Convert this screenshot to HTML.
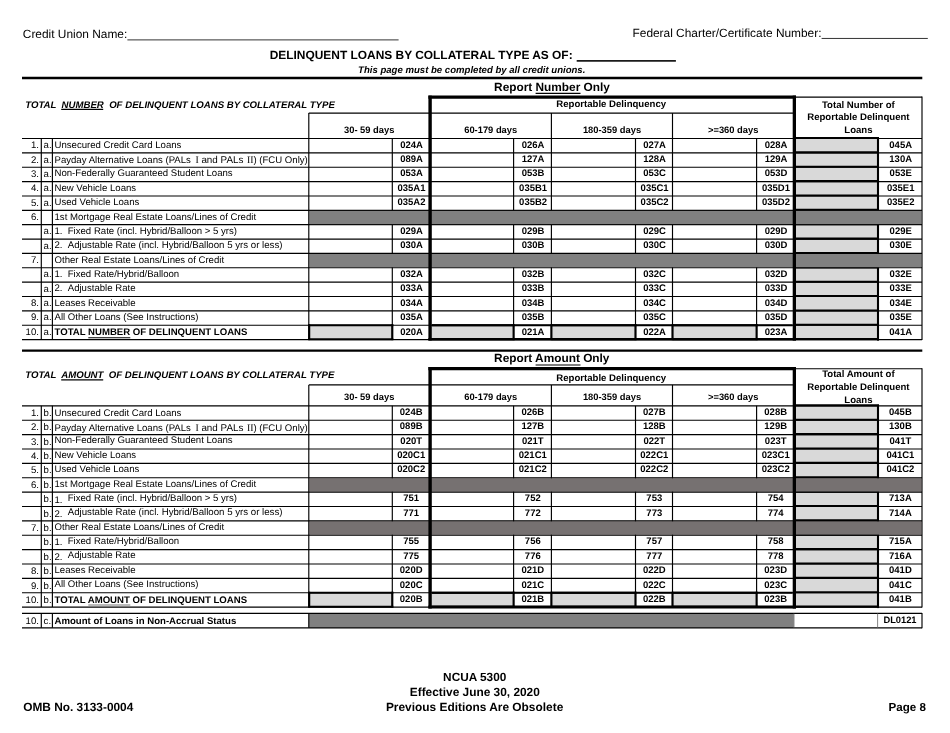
<!DOCTYPE html>
<html><head><meta charset="utf-8"><title>NCUA 5300 - Delinquent Loans by Collateral Type</title>
<style>
html,body{margin:0;padding:0;background:#fff;}
body{width:950px;height:733px;overflow:hidden;font-family:"Liberation Sans", sans-serif;}
svg{display:block;will-change:transform;font-family:"Liberation Sans", sans-serif;fill:#000;}
svg text{fill:#000;text-rendering:geometricPrecision;}
</style></head><body>
<svg width="950" height="733" viewBox="0 0 950 733">
<rect x="0" y="0" width="950" height="733" fill="#ffffff"/>
<text x="22.80" y="37.80" font-size="11.9">Credit Union Name:</text>
<line x1="127.40" y1="39.90" x2="398.60" y2="39.90" stroke="#333" stroke-width="1.0"/>
<text x="632.50" y="37.20" font-size="11.9">Federal Charter/Certificate Number:</text>
<line x1="821.60" y1="38.45" x2="927.80" y2="38.45" stroke="#333" stroke-width="1.0"/>
<text x="269.70" y="59.40" font-size="11.93" font-weight="bold">DELINQUENT LOANS BY COLLATERAL TYPE AS OF:</text>
<line x1="576.70" y1="60.90" x2="675.90" y2="60.90" stroke="#1a1a1a" stroke-width="1.6"/>
<text x="358.10" y="73.00" font-size="9.59" font-weight="bold" font-style="italic">This page must be completed by all credit unions.</text>
<line x1="22.00" y1="78.00" x2="922.30" y2="78.00" stroke="#000" stroke-width="2.3"/>
<text x="494.10" y="90.90" font-size="11.85" font-weight="bold">Report Number Only</text>
<line x1="535.60" y1="93.30" x2="580.50" y2="93.30" stroke="#000" stroke-width="1.2"/>
<line x1="22.00" y1="350.60" x2="922.30" y2="350.60" stroke="#000" stroke-width="2.2"/>
<line x1="535.60" y1="365.00" x2="580.50" y2="365.00" stroke="#000" stroke-width="1.2"/>
<text x="494.10" y="362.40" font-size="11.85" font-weight="bold">Report Amount Only</text>
<rect x="796.00" y="138.50" width="82.00" height="14.37" fill="#d9d9d9"/>
<rect x="796.00" y="152.87" width="82.00" height="14.36" fill="#d9d9d9"/>
<rect x="796.00" y="167.23" width="82.00" height="14.37" fill="#d9d9d9"/>
<rect x="796.00" y="181.59" width="82.00" height="14.37" fill="#d9d9d9"/>
<rect x="796.00" y="195.96" width="82.00" height="14.36" fill="#d9d9d9"/>
<rect x="308.80" y="210.32" width="613.20" height="14.37" fill="#808080"/>
<rect x="796.00" y="224.69" width="82.00" height="14.37" fill="#d9d9d9"/>
<rect x="796.00" y="239.06" width="82.00" height="14.37" fill="#d9d9d9"/>
<rect x="308.80" y="253.42" width="613.20" height="14.36" fill="#808080"/>
<rect x="796.00" y="267.78" width="82.00" height="14.37" fill="#d9d9d9"/>
<rect x="796.00" y="282.15" width="82.00" height="14.37" fill="#d9d9d9"/>
<rect x="796.00" y="296.51" width="82.00" height="14.37" fill="#d9d9d9"/>
<rect x="796.00" y="310.88" width="82.00" height="14.37" fill="#d9d9d9"/>
<rect x="796.00" y="325.25" width="82.00" height="14.37" fill="#d9d9d9"/>
<rect x="308.80" y="325.25" width="83.50" height="14.37" fill="#d9d9d9"/>
<rect x="431.80" y="325.25" width="81.80" height="14.37" fill="#d9d9d9"/>
<rect x="551.40" y="325.25" width="84.10" height="14.37" fill="#d9d9d9"/>
<rect x="672.50" y="325.25" width="84.10" height="14.37" fill="#d9d9d9"/>
<line x1="22.00" y1="138.50" x2="922.00" y2="138.50" stroke="#000" stroke-width="1.15"/>
<line x1="22.00" y1="152.87" x2="922.00" y2="152.87" stroke="#000" stroke-width="1.15"/>
<line x1="22.00" y1="167.23" x2="922.00" y2="167.23" stroke="#000" stroke-width="1.15"/>
<line x1="22.00" y1="181.59" x2="922.00" y2="181.59" stroke="#000" stroke-width="1.15"/>
<line x1="22.00" y1="195.96" x2="922.00" y2="195.96" stroke="#000" stroke-width="1.15"/>
<line x1="22.00" y1="210.32" x2="922.00" y2="210.32" stroke="#000" stroke-width="1.15"/>
<line x1="22.00" y1="224.69" x2="922.00" y2="224.69" stroke="#000" stroke-width="1.15"/>
<line x1="22.00" y1="239.06" x2="922.00" y2="239.06" stroke="#000" stroke-width="1.15"/>
<line x1="22.00" y1="253.42" x2="922.00" y2="253.42" stroke="#000" stroke-width="1.15"/>
<line x1="22.00" y1="267.78" x2="922.00" y2="267.78" stroke="#000" stroke-width="1.15"/>
<line x1="22.00" y1="282.15" x2="922.00" y2="282.15" stroke="#000" stroke-width="1.15"/>
<line x1="22.00" y1="296.51" x2="922.00" y2="296.51" stroke="#000" stroke-width="1.15"/>
<line x1="22.00" y1="310.88" x2="922.00" y2="310.88" stroke="#000" stroke-width="1.15"/>
<line x1="22.00" y1="325.25" x2="922.00" y2="325.25" stroke="#000" stroke-width="1.15"/>
<line x1="22.00" y1="339.61" x2="922.00" y2="339.61" stroke="#000" stroke-width="1.15"/>
<line x1="41.30" y1="138.50" x2="41.30" y2="339.61" stroke="#000" stroke-width="1.15"/>
<line x1="52.40" y1="138.50" x2="52.40" y2="339.61" stroke="#000" stroke-width="1.15"/>
<line x1="308.80" y1="113.10" x2="793.70" y2="113.10" stroke="#000" stroke-width="1.15"/>
<line x1="308.80" y1="113.10" x2="308.80" y2="339.61" stroke="#000" stroke-width="1.15"/>
<line x1="551.40" y1="113.10" x2="551.40" y2="339.61" stroke="#000" stroke-width="1.15"/>
<line x1="672.50" y1="113.10" x2="672.50" y2="339.61" stroke="#000" stroke-width="1.15"/>
<line x1="392.30" y1="138.50" x2="392.30" y2="339.61" stroke="#000" stroke-width="1.15"/>
<line x1="513.60" y1="138.50" x2="513.60" y2="339.61" stroke="#000" stroke-width="1.15"/>
<line x1="635.50" y1="138.50" x2="635.50" y2="339.61" stroke="#000" stroke-width="1.15"/>
<line x1="756.60" y1="138.50" x2="756.60" y2="339.61" stroke="#000" stroke-width="1.15"/>
<line x1="796.00" y1="97.10" x2="922.00" y2="97.10" stroke="#000" stroke-width="1.15"/>
<line x1="922.00" y1="96.60" x2="922.00" y2="340.11" stroke="#000" stroke-width="1.15"/>
<line x1="796.00" y1="138.05" x2="879.00" y2="138.05" stroke="#000" stroke-width="2.1"/>
<line x1="796.00" y1="152.42" x2="879.00" y2="152.42" stroke="#000" stroke-width="2.1"/>
<line x1="796.00" y1="166.78" x2="879.00" y2="166.78" stroke="#000" stroke-width="2.1"/>
<line x1="796.00" y1="181.15" x2="879.00" y2="181.15" stroke="#000" stroke-width="2.1"/>
<line x1="796.00" y1="195.51" x2="879.00" y2="195.51" stroke="#000" stroke-width="2.1"/>
<line x1="796.00" y1="209.88" x2="879.00" y2="209.88" stroke="#000" stroke-width="2.1"/>
<line x1="796.00" y1="224.24" x2="879.00" y2="224.24" stroke="#000" stroke-width="2.1"/>
<line x1="796.00" y1="238.61" x2="879.00" y2="238.61" stroke="#000" stroke-width="2.1"/>
<line x1="796.00" y1="252.97" x2="879.00" y2="252.97" stroke="#000" stroke-width="2.1"/>
<line x1="796.00" y1="267.33" x2="879.00" y2="267.33" stroke="#000" stroke-width="2.1"/>
<line x1="796.00" y1="281.70" x2="879.00" y2="281.70" stroke="#000" stroke-width="2.1"/>
<line x1="796.00" y1="296.06" x2="879.00" y2="296.06" stroke="#000" stroke-width="2.1"/>
<line x1="796.00" y1="310.43" x2="879.00" y2="310.43" stroke="#000" stroke-width="2.1"/>
<line x1="796.00" y1="324.80" x2="879.00" y2="324.80" stroke="#000" stroke-width="2.1"/>
<line x1="796.00" y1="339.16" x2="879.00" y2="339.16" stroke="#000" stroke-width="2.1"/>
<line x1="878.00" y1="137.50" x2="878.00" y2="340.61" stroke="#000" stroke-width="2.1"/>
<rect x="309.40" y="210.92" width="612.10" height="13.17" fill="#808080"/>
<rect x="309.40" y="254.02" width="612.10" height="13.17" fill="#808080"/>
<line x1="308.30" y1="325.25" x2="393.30" y2="325.25" stroke="#000" stroke-width="2.1"/>
<line x1="308.30" y1="339.31" x2="393.30" y2="339.31" stroke="#000" stroke-width="2.1"/>
<line x1="392.30" y1="324.25" x2="392.30" y2="340.11" stroke="#000" stroke-width="2.1"/>
<line x1="309.20" y1="324.25" x2="309.20" y2="340.11" stroke="#000" stroke-width="2.1"/>
<line x1="431.80" y1="325.25" x2="514.60" y2="325.25" stroke="#000" stroke-width="2.1"/>
<line x1="431.80" y1="339.31" x2="514.60" y2="339.31" stroke="#000" stroke-width="2.1"/>
<line x1="513.60" y1="324.25" x2="513.60" y2="340.11" stroke="#000" stroke-width="2.1"/>
<line x1="551.40" y1="325.25" x2="636.50" y2="325.25" stroke="#000" stroke-width="2.1"/>
<line x1="551.40" y1="339.31" x2="636.50" y2="339.31" stroke="#000" stroke-width="2.1"/>
<line x1="635.50" y1="324.25" x2="635.50" y2="340.11" stroke="#000" stroke-width="2.1"/>
<line x1="551.40" y1="324.25" x2="551.40" y2="340.11" stroke="#000" stroke-width="2.1"/>
<line x1="672.50" y1="325.25" x2="757.60" y2="325.25" stroke="#000" stroke-width="2.1"/>
<line x1="672.50" y1="339.31" x2="757.60" y2="339.31" stroke="#000" stroke-width="2.1"/>
<line x1="756.60" y1="324.25" x2="756.60" y2="340.11" stroke="#000" stroke-width="2.1"/>
<line x1="672.50" y1="324.25" x2="672.50" y2="340.11" stroke="#000" stroke-width="2.1"/>
<line x1="431.80" y1="325.25" x2="792.70" y2="325.25" stroke="#000" stroke-width="2.0"/>
<line x1="428.40" y1="97.15" x2="796.00" y2="97.15" stroke="#000" stroke-width="3.1"/>
<line x1="428.40" y1="339.25" x2="796.00" y2="339.25" stroke="#000" stroke-width="2.7"/>
<line x1="430.10" y1="95.60" x2="430.10" y2="340.60" stroke="#000" stroke-width="3.4"/>
<line x1="794.35" y1="95.60" x2="794.35" y2="340.60" stroke="#000" stroke-width="3.3"/>
<text x="25.20" y="107.90" font-size="9.63" font-weight="bold" font-style="italic" xml:space="preserve">TOTAL  NUMBER  OF DELINQUENT LOANS BY COLLATERAL TYPE</text>
<text x="611.20" y="107.30" font-size="9.6" font-weight="bold" text-anchor="middle">Reportable Delinquency</text>
<text x="369.20" y="133.20" font-size="9.35" font-weight="bold" text-anchor="middle">30- 59 days</text>
<text x="490.70" y="133.20" font-size="9.35" font-weight="bold" text-anchor="middle">60-179 days</text>
<text x="612.00" y="133.20" font-size="9.35" font-weight="bold" text-anchor="middle">180-359 days</text>
<text x="733.20" y="133.20" font-size="9.35" font-weight="bold" text-anchor="middle">&gt;=360 days</text>
<text x="858.40" y="107.60" font-size="9.6" font-weight="bold" text-anchor="middle">Total Number of</text>
<text x="858.40" y="120.30" font-size="9.6" font-weight="bold" text-anchor="middle">Reportable Delinquent</text>
<text x="858.40" y="132.80" font-size="9.6" font-weight="bold" text-anchor="middle">Loans</text>
<text x="38.90" y="148.20" font-size="9.6" text-anchor="end">1.</text>
<text x="43.60" y="148.20" font-size="9.6">a.</text>
<text x="54.50" y="148.20" font-size="9.6" xml:space="preserve">Unsecured Credit Card Loans</text>
<text x="411.50" y="147.70" font-size="9.5" font-weight="bold" text-anchor="middle">024A</text>
<text x="533.10" y="147.70" font-size="9.5" font-weight="bold" text-anchor="middle">026A</text>
<text x="654.60" y="147.70" font-size="9.5" font-weight="bold" text-anchor="middle">027A</text>
<text x="776.00" y="147.70" font-size="9.5" font-weight="bold" text-anchor="middle">028A</text>
<text x="900.70" y="147.70" font-size="9.5" font-weight="bold" text-anchor="middle">045A</text>
<text x="38.90" y="162.55" font-size="9.6" text-anchor="end">2.</text>
<text x="43.60" y="162.55" font-size="9.6">a.</text>
<text x="54.50" y="162.90" font-size="9.6" xml:space="preserve">Payday Alternative Loans (PALs<tspan x="195.4" font-family="'Liberation Serif', serif" font-size="9.8">I</tspan><tspan x="201.4" font-size="9.85">and PALs</tspan><tspan x="247.0" font-family="'Liberation Serif', serif" font-size="9.8">II</tspan><tspan x="253.4">) (FCU Only)</tspan></text>
<text x="411.50" y="162.07" font-size="9.5" font-weight="bold" text-anchor="middle">089A</text>
<text x="533.10" y="162.07" font-size="9.5" font-weight="bold" text-anchor="middle">127A</text>
<text x="654.60" y="162.07" font-size="9.5" font-weight="bold" text-anchor="middle">128A</text>
<text x="776.00" y="162.07" font-size="9.5" font-weight="bold" text-anchor="middle">129A</text>
<text x="900.70" y="162.07" font-size="9.5" font-weight="bold" text-anchor="middle">130A</text>
<text x="38.90" y="176.90" font-size="9.6" text-anchor="end">3.</text>
<text x="43.60" y="176.90" font-size="9.6">a.</text>
<text x="54.50" y="176.20" font-size="9.6" xml:space="preserve">Non-Federally Guaranteed Student Loans</text>
<text x="411.50" y="176.44" font-size="9.5" font-weight="bold" text-anchor="middle">053A</text>
<text x="533.10" y="176.44" font-size="9.5" font-weight="bold" text-anchor="middle">053B</text>
<text x="654.60" y="176.44" font-size="9.5" font-weight="bold" text-anchor="middle">053C</text>
<text x="776.00" y="176.44" font-size="9.5" font-weight="bold" text-anchor="middle">053D</text>
<text x="900.70" y="176.44" font-size="9.5" font-weight="bold" text-anchor="middle">053E</text>
<text x="38.90" y="191.25" font-size="9.6" text-anchor="end">4.</text>
<text x="43.60" y="191.25" font-size="9.6">a.</text>
<text x="54.50" y="190.55" font-size="9.6" xml:space="preserve">New Vehicle Loans</text>
<text x="411.50" y="190.81" font-size="9.5" font-weight="bold" text-anchor="middle">035A1</text>
<text x="533.10" y="190.81" font-size="9.5" font-weight="bold" text-anchor="middle">035B1</text>
<text x="654.60" y="190.81" font-size="9.5" font-weight="bold" text-anchor="middle">035C1</text>
<text x="776.00" y="190.81" font-size="9.5" font-weight="bold" text-anchor="middle">035D1</text>
<text x="900.70" y="190.81" font-size="9.5" font-weight="bold" text-anchor="middle">035E1</text>
<text x="38.90" y="205.60" font-size="9.6" text-anchor="end">5.</text>
<text x="43.60" y="205.60" font-size="9.6">a.</text>
<text x="54.50" y="204.90" font-size="9.6" xml:space="preserve">Used Vehicle Loans</text>
<text x="411.50" y="205.18" font-size="9.5" font-weight="bold" text-anchor="middle">035A2</text>
<text x="533.10" y="205.18" font-size="9.5" font-weight="bold" text-anchor="middle">035B2</text>
<text x="654.60" y="205.18" font-size="9.5" font-weight="bold" text-anchor="middle">035C2</text>
<text x="776.00" y="205.18" font-size="9.5" font-weight="bold" text-anchor="middle">035D2</text>
<text x="900.70" y="205.18" font-size="9.5" font-weight="bold" text-anchor="middle">035E2</text>
<text x="38.90" y="219.95" font-size="9.6" text-anchor="end">6.</text>
<text x="54.50" y="219.65" font-size="9.6" xml:space="preserve">1st Mortgage Real Estate Loans/Lines of Credit</text>
<text x="43.60" y="234.30" font-size="9.6">a.</text>
<text x="54.50" y="234.00" font-size="9.6">1.</text>
<text x="67.75" y="234.00" font-size="9.6" xml:space="preserve">Fixed Rate (incl. Hybrid/Balloon &gt; 5 yrs)</text>
<text x="411.50" y="233.92" font-size="9.5" font-weight="bold" text-anchor="middle">029A</text>
<text x="533.10" y="233.92" font-size="9.5" font-weight="bold" text-anchor="middle">029B</text>
<text x="654.60" y="233.92" font-size="9.5" font-weight="bold" text-anchor="middle">029C</text>
<text x="776.00" y="233.92" font-size="9.5" font-weight="bold" text-anchor="middle">029D</text>
<text x="900.70" y="233.92" font-size="9.5" font-weight="bold" text-anchor="middle">029E</text>
<text x="43.60" y="248.65" font-size="9.6">a.</text>
<text x="54.50" y="248.35" font-size="9.6">2.</text>
<text x="67.75" y="248.35" font-size="9.66" xml:space="preserve">Adjustable Rate (incl. Hybrid/Balloon 5 yrs or less)</text>
<text x="411.50" y="248.29" font-size="9.5" font-weight="bold" text-anchor="middle">030A</text>
<text x="533.10" y="248.29" font-size="9.5" font-weight="bold" text-anchor="middle">030B</text>
<text x="654.60" y="248.29" font-size="9.5" font-weight="bold" text-anchor="middle">030C</text>
<text x="776.00" y="248.29" font-size="9.5" font-weight="bold" text-anchor="middle">030D</text>
<text x="900.70" y="248.29" font-size="9.5" font-weight="bold" text-anchor="middle">030E</text>
<text x="38.90" y="263.00" font-size="9.6" text-anchor="end">7.</text>
<text x="54.50" y="262.70" font-size="9.6" xml:space="preserve">Other Real Estate Loans/Lines of Credit</text>
<text x="43.60" y="277.35" font-size="9.6">a.</text>
<text x="54.50" y="277.05" font-size="9.6">1.</text>
<text x="67.75" y="277.05" font-size="9.6" xml:space="preserve">Fixed Rate/Hybrid/Balloon</text>
<text x="411.50" y="277.03" font-size="9.5" font-weight="bold" text-anchor="middle">032A</text>
<text x="533.10" y="277.03" font-size="9.5" font-weight="bold" text-anchor="middle">032B</text>
<text x="654.60" y="277.03" font-size="9.5" font-weight="bold" text-anchor="middle">032C</text>
<text x="776.00" y="277.03" font-size="9.5" font-weight="bold" text-anchor="middle">032D</text>
<text x="900.70" y="277.03" font-size="9.5" font-weight="bold" text-anchor="middle">032E</text>
<text x="43.60" y="291.70" font-size="9.6">a.</text>
<text x="54.50" y="291.40" font-size="9.6">2.</text>
<text x="67.75" y="291.40" font-size="9.6" xml:space="preserve">Adjustable Rate</text>
<text x="411.50" y="291.40" font-size="9.5" font-weight="bold" text-anchor="middle">033A</text>
<text x="533.10" y="291.40" font-size="9.5" font-weight="bold" text-anchor="middle">033B</text>
<text x="654.60" y="291.40" font-size="9.5" font-weight="bold" text-anchor="middle">033C</text>
<text x="776.00" y="291.40" font-size="9.5" font-weight="bold" text-anchor="middle">033D</text>
<text x="900.70" y="291.40" font-size="9.5" font-weight="bold" text-anchor="middle">033E</text>
<text x="38.90" y="306.05" font-size="9.6" text-anchor="end">8.</text>
<text x="43.60" y="306.05" font-size="9.6">a.</text>
<text x="54.50" y="305.95" font-size="9.6" xml:space="preserve">Leases Receivable</text>
<text x="411.50" y="305.77" font-size="9.5" font-weight="bold" text-anchor="middle">034A</text>
<text x="533.10" y="305.77" font-size="9.5" font-weight="bold" text-anchor="middle">034B</text>
<text x="654.60" y="305.77" font-size="9.5" font-weight="bold" text-anchor="middle">034C</text>
<text x="776.00" y="305.77" font-size="9.5" font-weight="bold" text-anchor="middle">034D</text>
<text x="900.70" y="305.77" font-size="9.5" font-weight="bold" text-anchor="middle">034E</text>
<text x="38.90" y="320.40" font-size="9.6" text-anchor="end">9.</text>
<text x="43.60" y="320.40" font-size="9.6">a.</text>
<text x="54.50" y="320.20" font-size="9.6" xml:space="preserve">All Other Loans (See Instructions)</text>
<text x="411.50" y="320.14" font-size="9.5" font-weight="bold" text-anchor="middle">035A</text>
<text x="533.10" y="320.14" font-size="9.5" font-weight="bold" text-anchor="middle">035B</text>
<text x="654.60" y="320.14" font-size="9.5" font-weight="bold" text-anchor="middle">035C</text>
<text x="776.00" y="320.14" font-size="9.5" font-weight="bold" text-anchor="middle">035D</text>
<text x="900.70" y="320.14" font-size="9.5" font-weight="bold" text-anchor="middle">035E</text>
<text x="38.90" y="334.75" font-size="9.6" text-anchor="end">10.</text>
<text x="43.60" y="334.75" font-size="9.6">a.</text>
<text x="54.50" y="334.75" font-size="9.6" font-weight="bold" xml:space="preserve">TOTAL NUMBER OF DELINQUENT LOANS</text>
<text x="411.50" y="334.51" font-size="9.5" font-weight="bold" text-anchor="middle">020A</text>
<text x="533.10" y="334.51" font-size="9.5" font-weight="bold" text-anchor="middle">021A</text>
<text x="654.60" y="334.51" font-size="9.5" font-weight="bold" text-anchor="middle">022A</text>
<text x="776.00" y="334.51" font-size="9.5" font-weight="bold" text-anchor="middle">023A</text>
<text x="900.70" y="334.51" font-size="9.5" font-weight="bold" text-anchor="middle">041A</text>
<line x1="61.20" y1="109.40" x2="103.20" y2="109.40" stroke="#000" stroke-width="1.2"/>
<line x1="88.30" y1="337.80" x2="130.30" y2="337.80" stroke="#000" stroke-width="1.1"/>
<rect x="796.00" y="405.85" width="82.00" height="14.38" fill="#d9d9d9"/>
<rect x="796.00" y="420.23" width="82.00" height="14.38" fill="#d9d9d9"/>
<rect x="796.00" y="434.60" width="82.00" height="14.38" fill="#d9d9d9"/>
<rect x="796.00" y="448.98" width="82.00" height="14.38" fill="#d9d9d9"/>
<rect x="796.00" y="463.35" width="82.00" height="14.38" fill="#d9d9d9"/>
<rect x="308.80" y="477.73" width="613.20" height="14.38" fill="#767171"/>
<rect x="796.00" y="492.10" width="82.00" height="14.38" fill="#d9d9d9"/>
<rect x="796.00" y="506.48" width="82.00" height="14.38" fill="#d9d9d9"/>
<rect x="308.80" y="520.85" width="613.20" height="14.38" fill="#767171"/>
<rect x="796.00" y="535.23" width="82.00" height="14.38" fill="#d9d9d9"/>
<rect x="796.00" y="549.60" width="82.00" height="14.38" fill="#d9d9d9"/>
<rect x="796.00" y="563.98" width="82.00" height="14.38" fill="#d9d9d9"/>
<rect x="796.00" y="578.35" width="82.00" height="14.38" fill="#d9d9d9"/>
<rect x="796.00" y="592.73" width="82.00" height="14.38" fill="#d9d9d9"/>
<rect x="308.80" y="592.73" width="83.50" height="14.38" fill="#d9d9d9"/>
<rect x="431.80" y="592.73" width="81.80" height="14.38" fill="#d9d9d9"/>
<rect x="551.40" y="592.73" width="84.10" height="14.38" fill="#d9d9d9"/>
<rect x="672.50" y="592.73" width="84.10" height="14.38" fill="#d9d9d9"/>
<line x1="22.00" y1="405.85" x2="922.00" y2="405.85" stroke="#000" stroke-width="1.15"/>
<line x1="22.00" y1="420.23" x2="922.00" y2="420.23" stroke="#000" stroke-width="1.15"/>
<line x1="22.00" y1="434.60" x2="922.00" y2="434.60" stroke="#000" stroke-width="1.15"/>
<line x1="22.00" y1="448.98" x2="922.00" y2="448.98" stroke="#000" stroke-width="1.15"/>
<line x1="22.00" y1="463.35" x2="922.00" y2="463.35" stroke="#000" stroke-width="1.15"/>
<line x1="22.00" y1="477.73" x2="922.00" y2="477.73" stroke="#000" stroke-width="1.15"/>
<line x1="22.00" y1="492.10" x2="922.00" y2="492.10" stroke="#000" stroke-width="1.15"/>
<line x1="22.00" y1="506.48" x2="922.00" y2="506.48" stroke="#000" stroke-width="1.15"/>
<line x1="22.00" y1="520.85" x2="922.00" y2="520.85" stroke="#000" stroke-width="1.15"/>
<line x1="22.00" y1="535.23" x2="922.00" y2="535.23" stroke="#000" stroke-width="1.15"/>
<line x1="22.00" y1="549.60" x2="922.00" y2="549.60" stroke="#000" stroke-width="1.15"/>
<line x1="22.00" y1="563.98" x2="922.00" y2="563.98" stroke="#000" stroke-width="1.15"/>
<line x1="22.00" y1="578.35" x2="922.00" y2="578.35" stroke="#000" stroke-width="1.15"/>
<line x1="22.00" y1="592.73" x2="922.00" y2="592.73" stroke="#000" stroke-width="1.15"/>
<line x1="22.00" y1="607.10" x2="922.00" y2="607.10" stroke="#000" stroke-width="1.15"/>
<line x1="41.30" y1="405.85" x2="41.30" y2="607.10" stroke="#000" stroke-width="1.15"/>
<line x1="52.40" y1="405.85" x2="52.40" y2="607.10" stroke="#000" stroke-width="1.15"/>
<line x1="308.80" y1="384.90" x2="793.70" y2="384.90" stroke="#000" stroke-width="1.15"/>
<line x1="308.80" y1="384.90" x2="308.80" y2="607.10" stroke="#000" stroke-width="1.15"/>
<line x1="551.40" y1="384.90" x2="551.40" y2="607.10" stroke="#000" stroke-width="1.15"/>
<line x1="672.50" y1="384.90" x2="672.50" y2="607.10" stroke="#000" stroke-width="1.15"/>
<line x1="392.30" y1="405.85" x2="392.30" y2="607.10" stroke="#000" stroke-width="1.15"/>
<line x1="513.60" y1="405.85" x2="513.60" y2="607.10" stroke="#000" stroke-width="1.15"/>
<line x1="635.50" y1="405.85" x2="635.50" y2="607.10" stroke="#000" stroke-width="1.15"/>
<line x1="756.60" y1="405.85" x2="756.60" y2="607.10" stroke="#000" stroke-width="1.15"/>
<line x1="796.00" y1="368.70" x2="922.00" y2="368.70" stroke="#000" stroke-width="1.15"/>
<line x1="922.00" y1="368.20" x2="922.00" y2="607.60" stroke="#000" stroke-width="1.15"/>
<line x1="796.00" y1="405.40" x2="879.00" y2="405.40" stroke="#000" stroke-width="2.1"/>
<line x1="796.00" y1="419.78" x2="879.00" y2="419.78" stroke="#000" stroke-width="2.1"/>
<line x1="796.00" y1="434.15" x2="879.00" y2="434.15" stroke="#000" stroke-width="2.1"/>
<line x1="796.00" y1="448.53" x2="879.00" y2="448.53" stroke="#000" stroke-width="2.1"/>
<line x1="796.00" y1="462.90" x2="879.00" y2="462.90" stroke="#000" stroke-width="2.1"/>
<line x1="796.00" y1="477.28" x2="879.00" y2="477.28" stroke="#000" stroke-width="2.1"/>
<line x1="796.00" y1="491.65" x2="879.00" y2="491.65" stroke="#000" stroke-width="2.1"/>
<line x1="796.00" y1="506.03" x2="879.00" y2="506.03" stroke="#000" stroke-width="2.1"/>
<line x1="796.00" y1="520.40" x2="879.00" y2="520.40" stroke="#000" stroke-width="2.1"/>
<line x1="796.00" y1="534.77" x2="879.00" y2="534.77" stroke="#000" stroke-width="2.1"/>
<line x1="796.00" y1="549.15" x2="879.00" y2="549.15" stroke="#000" stroke-width="2.1"/>
<line x1="796.00" y1="563.52" x2="879.00" y2="563.52" stroke="#000" stroke-width="2.1"/>
<line x1="796.00" y1="577.90" x2="879.00" y2="577.90" stroke="#000" stroke-width="2.1"/>
<line x1="796.00" y1="592.27" x2="879.00" y2="592.27" stroke="#000" stroke-width="2.1"/>
<line x1="796.00" y1="606.65" x2="879.00" y2="606.65" stroke="#000" stroke-width="2.1"/>
<line x1="878.00" y1="404.85" x2="878.00" y2="608.10" stroke="#000" stroke-width="2.1"/>
<rect x="309.40" y="478.33" width="612.10" height="13.18" fill="#767171"/>
<rect x="309.40" y="521.45" width="612.10" height="13.18" fill="#767171"/>
<line x1="308.30" y1="592.73" x2="393.30" y2="592.73" stroke="#000" stroke-width="2.1"/>
<line x1="308.30" y1="606.80" x2="393.30" y2="606.80" stroke="#000" stroke-width="2.1"/>
<line x1="392.30" y1="591.73" x2="392.30" y2="607.60" stroke="#000" stroke-width="2.1"/>
<line x1="309.20" y1="591.73" x2="309.20" y2="607.60" stroke="#000" stroke-width="2.1"/>
<line x1="431.80" y1="592.73" x2="514.60" y2="592.73" stroke="#000" stroke-width="2.1"/>
<line x1="431.80" y1="606.80" x2="514.60" y2="606.80" stroke="#000" stroke-width="2.1"/>
<line x1="513.60" y1="591.73" x2="513.60" y2="607.60" stroke="#000" stroke-width="2.1"/>
<line x1="551.40" y1="592.73" x2="636.50" y2="592.73" stroke="#000" stroke-width="2.1"/>
<line x1="551.40" y1="606.80" x2="636.50" y2="606.80" stroke="#000" stroke-width="2.1"/>
<line x1="635.50" y1="591.73" x2="635.50" y2="607.60" stroke="#000" stroke-width="2.1"/>
<line x1="551.40" y1="591.73" x2="551.40" y2="607.60" stroke="#000" stroke-width="2.1"/>
<line x1="672.50" y1="592.73" x2="757.60" y2="592.73" stroke="#000" stroke-width="2.1"/>
<line x1="672.50" y1="606.80" x2="757.60" y2="606.80" stroke="#000" stroke-width="2.1"/>
<line x1="756.60" y1="591.73" x2="756.60" y2="607.60" stroke="#000" stroke-width="2.1"/>
<line x1="672.50" y1="591.73" x2="672.50" y2="607.60" stroke="#000" stroke-width="2.1"/>
<line x1="431.80" y1="592.73" x2="792.70" y2="592.73" stroke="#000" stroke-width="2.0"/>
<line x1="428.40" y1="368.60" x2="796.00" y2="368.60" stroke="#000" stroke-width="3.2"/>
<line x1="428.40" y1="607.05" x2="796.00" y2="607.05" stroke="#000" stroke-width="2.9"/>
<line x1="430.10" y1="367.00" x2="430.10" y2="608.50" stroke="#000" stroke-width="3.4"/>
<line x1="794.35" y1="367.00" x2="794.35" y2="608.50" stroke="#000" stroke-width="3.3"/>
<text x="25.20" y="378.30" font-size="9.63" font-weight="bold" font-style="italic" xml:space="preserve">TOTAL  AMOUNT  OF DELINQUENT LOANS BY COLLATERAL TYPE</text>
<text x="611.20" y="381.00" font-size="9.6" font-weight="bold" text-anchor="middle">Reportable Delinquency</text>
<text x="369.20" y="400.10" font-size="9.35" font-weight="bold" text-anchor="middle">30- 59 days</text>
<text x="490.70" y="400.10" font-size="9.35" font-weight="bold" text-anchor="middle">60-179 days</text>
<text x="612.00" y="400.10" font-size="9.35" font-weight="bold" text-anchor="middle">180-359 days</text>
<text x="733.20" y="400.10" font-size="9.35" font-weight="bold" text-anchor="middle">&gt;=360 days</text>
<text x="858.40" y="377.10" font-size="9.6" font-weight="bold" text-anchor="middle">Total Amount of</text>
<text x="858.40" y="390.30" font-size="9.6" font-weight="bold" text-anchor="middle">Reportable Delinquent</text>
<text x="858.40" y="402.90" font-size="9.6" font-weight="bold" text-anchor="middle">Loans</text>
<text x="38.90" y="415.90" font-size="9.6" text-anchor="end">1.</text>
<text x="43.60" y="415.90" font-size="9.6">b.</text>
<text x="54.50" y="415.90" font-size="9.6" xml:space="preserve">Unsecured Credit Card Loans</text>
<text x="411.20" y="414.70" font-size="9.5" font-weight="bold" text-anchor="middle">024B</text>
<text x="532.80" y="414.70" font-size="9.5" font-weight="bold" text-anchor="middle">026B</text>
<text x="654.30" y="414.70" font-size="9.5" font-weight="bold" text-anchor="middle">027B</text>
<text x="775.70" y="414.70" font-size="9.5" font-weight="bold" text-anchor="middle">028B</text>
<text x="900.40" y="414.70" font-size="9.5" font-weight="bold" text-anchor="middle">045B</text>
<text x="38.90" y="430.28" font-size="9.6" text-anchor="end">2.</text>
<text x="43.60" y="430.28" font-size="9.6">b.</text>
<text x="54.50" y="431.08" font-size="9.6" xml:space="preserve">Payday Alternative Loans (PALs<tspan x="195.4" font-family="'Liberation Serif', serif" font-size="9.8">I</tspan><tspan x="201.4" font-size="9.85">and PALs</tspan><tspan x="247.0" font-family="'Liberation Serif', serif" font-size="9.8">II</tspan><tspan x="253.4">) (FCU Only)</tspan></text>
<text x="411.20" y="429.12" font-size="9.5" font-weight="bold" text-anchor="middle">089B</text>
<text x="532.80" y="429.12" font-size="9.5" font-weight="bold" text-anchor="middle">127B</text>
<text x="654.30" y="429.12" font-size="9.5" font-weight="bold" text-anchor="middle">128B</text>
<text x="775.70" y="429.12" font-size="9.5" font-weight="bold" text-anchor="middle">129B</text>
<text x="900.40" y="429.12" font-size="9.5" font-weight="bold" text-anchor="middle">130B</text>
<text x="38.90" y="444.67" font-size="9.6" text-anchor="end">3.</text>
<text x="43.60" y="444.67" font-size="9.6">b.</text>
<text x="54.50" y="443.47" font-size="9.6" xml:space="preserve">Non-Federally Guaranteed Student Loans</text>
<text x="411.20" y="443.54" font-size="9.5" font-weight="bold" text-anchor="middle">020T</text>
<text x="532.80" y="443.54" font-size="9.5" font-weight="bold" text-anchor="middle">021T</text>
<text x="654.30" y="443.54" font-size="9.5" font-weight="bold" text-anchor="middle">022T</text>
<text x="775.70" y="443.54" font-size="9.5" font-weight="bold" text-anchor="middle">023T</text>
<text x="900.40" y="443.54" font-size="9.5" font-weight="bold" text-anchor="middle">041T</text>
<text x="38.90" y="459.05" font-size="9.6" text-anchor="end">4.</text>
<text x="43.60" y="459.05" font-size="9.6">b.</text>
<text x="54.50" y="457.85" font-size="9.6" xml:space="preserve">New Vehicle Loans</text>
<text x="411.20" y="457.96" font-size="9.5" font-weight="bold" text-anchor="middle">020C1</text>
<text x="532.80" y="457.96" font-size="9.5" font-weight="bold" text-anchor="middle">021C1</text>
<text x="654.30" y="457.96" font-size="9.5" font-weight="bold" text-anchor="middle">022C1</text>
<text x="775.70" y="457.96" font-size="9.5" font-weight="bold" text-anchor="middle">023C1</text>
<text x="900.40" y="457.96" font-size="9.5" font-weight="bold" text-anchor="middle">041C1</text>
<text x="38.90" y="473.44" font-size="9.6" text-anchor="end">5.</text>
<text x="43.60" y="473.44" font-size="9.6">b.</text>
<text x="54.50" y="472.14" font-size="9.6" xml:space="preserve">Used Vehicle Loans</text>
<text x="411.20" y="472.38" font-size="9.5" font-weight="bold" text-anchor="middle">020C2</text>
<text x="532.80" y="472.38" font-size="9.5" font-weight="bold" text-anchor="middle">021C2</text>
<text x="654.30" y="472.38" font-size="9.5" font-weight="bold" text-anchor="middle">022C2</text>
<text x="775.70" y="472.38" font-size="9.5" font-weight="bold" text-anchor="middle">023C2</text>
<text x="900.40" y="472.38" font-size="9.5" font-weight="bold" text-anchor="middle">041C2</text>
<text x="38.90" y="487.82" font-size="9.6" text-anchor="end">6.</text>
<text x="43.60" y="487.82" font-size="9.6">b.</text>
<text x="54.50" y="486.82" font-size="9.6" xml:space="preserve">1st Mortgage Real Estate Loans/Lines of Credit</text>
<text x="43.60" y="502.21" font-size="9.6">b.</text>
<text x="54.50" y="502.81" font-size="9.6">1.</text>
<text x="67.75" y="501.01" font-size="9.6" xml:space="preserve">Fixed Rate (incl. Hybrid/Balloon &gt; 5 yrs)</text>
<text x="411.20" y="501.22" font-size="9.5" font-weight="bold" text-anchor="middle">751</text>
<text x="532.80" y="501.22" font-size="9.5" font-weight="bold" text-anchor="middle">752</text>
<text x="654.30" y="501.22" font-size="9.5" font-weight="bold" text-anchor="middle">753</text>
<text x="775.70" y="501.22" font-size="9.5" font-weight="bold" text-anchor="middle">754</text>
<text x="900.40" y="501.22" font-size="9.5" font-weight="bold" text-anchor="middle">713A</text>
<text x="43.60" y="516.60" font-size="9.6">b.</text>
<text x="54.50" y="516.60" font-size="9.6">2.</text>
<text x="67.75" y="515.39" font-size="9.66" xml:space="preserve">Adjustable Rate (incl. Hybrid/Balloon 5 yrs or less)</text>
<text x="411.20" y="515.64" font-size="9.5" font-weight="bold" text-anchor="middle">771</text>
<text x="532.80" y="515.64" font-size="9.5" font-weight="bold" text-anchor="middle">772</text>
<text x="654.30" y="515.64" font-size="9.5" font-weight="bold" text-anchor="middle">773</text>
<text x="775.70" y="515.64" font-size="9.5" font-weight="bold" text-anchor="middle">774</text>
<text x="900.40" y="515.64" font-size="9.5" font-weight="bold" text-anchor="middle">714A</text>
<text x="38.90" y="530.98" font-size="9.6" text-anchor="end">7.</text>
<text x="43.60" y="530.98" font-size="9.6">b.</text>
<text x="54.50" y="529.68" font-size="9.6" xml:space="preserve">Other Real Estate Loans/Lines of Credit</text>
<text x="43.60" y="545.37" font-size="9.6">b.</text>
<text x="54.50" y="545.37" font-size="9.6">1.</text>
<text x="67.75" y="544.07" font-size="9.6" xml:space="preserve">Fixed Rate/Hybrid/Balloon</text>
<text x="411.20" y="544.48" font-size="9.5" font-weight="bold" text-anchor="middle">755</text>
<text x="532.80" y="544.48" font-size="9.5" font-weight="bold" text-anchor="middle">756</text>
<text x="654.30" y="544.48" font-size="9.5" font-weight="bold" text-anchor="middle">757</text>
<text x="775.70" y="544.48" font-size="9.5" font-weight="bold" text-anchor="middle">758</text>
<text x="900.40" y="544.48" font-size="9.5" font-weight="bold" text-anchor="middle">715A</text>
<text x="43.60" y="559.75" font-size="9.6">b.</text>
<text x="54.50" y="559.75" font-size="9.6">2.</text>
<text x="67.75" y="558.25" font-size="9.6" xml:space="preserve">Adjustable Rate</text>
<text x="411.20" y="558.90" font-size="9.5" font-weight="bold" text-anchor="middle">775</text>
<text x="532.80" y="558.90" font-size="9.5" font-weight="bold" text-anchor="middle">776</text>
<text x="654.30" y="558.90" font-size="9.5" font-weight="bold" text-anchor="middle">777</text>
<text x="775.70" y="558.90" font-size="9.5" font-weight="bold" text-anchor="middle">778</text>
<text x="900.40" y="558.90" font-size="9.5" font-weight="bold" text-anchor="middle">716A</text>
<text x="38.90" y="574.13" font-size="9.6" text-anchor="end">8.</text>
<text x="43.60" y="574.13" font-size="9.6">b.</text>
<text x="54.50" y="572.84" font-size="9.6" xml:space="preserve">Leases Receivable</text>
<text x="411.20" y="573.32" font-size="9.5" font-weight="bold" text-anchor="middle">020D</text>
<text x="532.80" y="573.32" font-size="9.5" font-weight="bold" text-anchor="middle">021D</text>
<text x="654.30" y="573.32" font-size="9.5" font-weight="bold" text-anchor="middle">022D</text>
<text x="775.70" y="573.32" font-size="9.5" font-weight="bold" text-anchor="middle">023D</text>
<text x="900.40" y="573.32" font-size="9.5" font-weight="bold" text-anchor="middle">041D</text>
<text x="38.90" y="588.52" font-size="9.6" text-anchor="end">9.</text>
<text x="43.60" y="588.52" font-size="9.6">b.</text>
<text x="54.50" y="587.32" font-size="9.6" xml:space="preserve">All Other Loans (See Instructions)</text>
<text x="411.20" y="587.74" font-size="9.5" font-weight="bold" text-anchor="middle">020C</text>
<text x="532.80" y="587.74" font-size="9.5" font-weight="bold" text-anchor="middle">021C</text>
<text x="654.30" y="587.74" font-size="9.5" font-weight="bold" text-anchor="middle">022C</text>
<text x="775.70" y="587.74" font-size="9.5" font-weight="bold" text-anchor="middle">023C</text>
<text x="900.40" y="587.74" font-size="9.5" font-weight="bold" text-anchor="middle">041C</text>
<text x="38.90" y="602.90" font-size="9.6" text-anchor="end">10.</text>
<text x="43.60" y="602.90" font-size="9.6">b.</text>
<text x="54.50" y="602.80" font-size="9.6" font-weight="bold" xml:space="preserve">TOTAL AMOUNT OF DELINQUENT LOANS</text>
<text x="411.20" y="602.16" font-size="9.5" font-weight="bold" text-anchor="middle">020B</text>
<text x="532.80" y="602.16" font-size="9.5" font-weight="bold" text-anchor="middle">021B</text>
<text x="654.30" y="602.16" font-size="9.5" font-weight="bold" text-anchor="middle">022B</text>
<text x="775.70" y="602.16" font-size="9.5" font-weight="bold" text-anchor="middle">023B</text>
<text x="900.40" y="602.16" font-size="9.5" font-weight="bold" text-anchor="middle">041B</text>
<line x1="61.20" y1="379.80" x2="103.20" y2="379.80" stroke="#000" stroke-width="1.2"/>
<line x1="88.30" y1="605.00" x2="130.30" y2="605.00" stroke="#777" stroke-width="1.1"/>
<rect x="308.80" y="613.40" width="484.70" height="14.40" fill="#808080"/>
<line x1="22.00" y1="613.40" x2="922.00" y2="613.40" stroke="#000" stroke-width="1.15"/>
<line x1="22.00" y1="627.80" x2="922.00" y2="627.80" stroke="#000" stroke-width="1.15"/>
<line x1="41.30" y1="613.40" x2="41.30" y2="627.80" stroke="#000" stroke-width="1.15"/>
<line x1="52.40" y1="613.40" x2="52.40" y2="627.80" stroke="#000" stroke-width="1.15"/>
<line x1="308.80" y1="613.40" x2="308.80" y2="627.80" stroke="#000" stroke-width="1.15"/>
<line x1="793.90" y1="613.40" x2="793.90" y2="627.80" stroke="#444" stroke-width="0.8"/>
<line x1="877.60" y1="613.40" x2="877.60" y2="627.80" stroke="#666" stroke-width="0.8"/>
<line x1="922.00" y1="612.90" x2="922.00" y2="628.30" stroke="#000" stroke-width="1.15"/>
<text x="38.90" y="623.80" font-size="9.6" text-anchor="end">10.</text>
<text x="43.60" y="623.80" font-size="9.6">c.</text>
<text x="54.50" y="623.80" font-size="9.6" font-weight="bold">Amount of Loans in Non-Accrual Status</text>
<text x="900.00" y="623.20" font-size="9.3" font-weight="bold" text-anchor="middle">DL0121</text>
<text x="23.20" y="710.50" font-size="11.87" font-weight="bold">OMB No. 3133-0004</text>
<text x="474.70" y="680.70" font-size="11.8" font-weight="bold" text-anchor="middle">NCUA 5300</text>
<text x="474.80" y="696.10" font-size="11.88" font-weight="bold" text-anchor="middle">Effective June 30, 2020</text>
<text x="474.60" y="711.30" font-size="11.9" font-weight="bold" text-anchor="middle">Previous Editions Are Obsolete</text>
<text x="926.00" y="710.50" font-size="11.6" font-weight="bold" text-anchor="end">Page 8</text>
</svg>
</body></html>
